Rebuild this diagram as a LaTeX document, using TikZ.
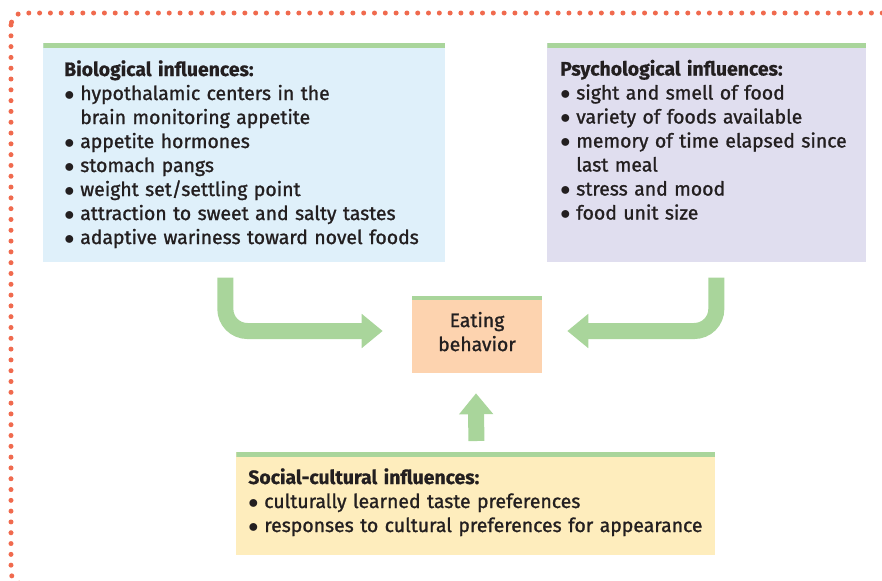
\documentclass[tikz,border=0pt]{standalone}
\usepackage{fontspec}
\setmainfont{Fira Sans}[UprightFeatures={FakeBold=1.2}, BoldFeatures={FakeBold=0.6}]
\usepackage{tikz}
\usetikzlibrary{arrows.meta,positioning,calc}
\definecolor{EatInk}{HTML}{231F20}
\definecolor{EatDot}{HTML}{F06A4E}
\definecolor{EatGreen}{HTML}{A9D59B}
\definecolor{EatBlue}{HTML}{DFF0FA}
\definecolor{EatLilac}{HTML}{E0DEEF}
\definecolor{EatPeach}{HTML}{FDD3AF}
\definecolor{EatCream}{HTML}{FEEDBD}
\newcommand{\bul}{\makebox[0.4cm][l]{$\bullet$}}
\newcommand{\hang}{\hspace*{0.4cm}}
\tikzset{
  figtext/.style={font=\fontsize{13.8}{17.07}\selectfont, text=EatInk},
  figbox/.style={rectangle, inner sep=0pt, draw=none,
    path picture={\fill[EatGreen] (path picture bounding box.north west) rectangle ([yshift=-0.11cm]path picture bounding box.north east);}},
  biobox/.style={figbox, fill=EatBlue, minimum width=10.05cm, minimum height=5.475cm},
  psybox/.style={figbox, fill=EatLilac, minimum width=7.975cm, minimum height=5.475cm},
  eatbox/.style={figbox, fill=EatPeach, minimum width=3.25cm, minimum height=1.925cm, align=center},
  socbox/.style={figbox, fill=EatCream, minimum width=11.975cm, minimum height=2.575cm},
  listtext/.style={figtext, inner sep=0pt, anchor=base west, align=left, text width=14cm},
  figflow/.style={-{Triangle[width=0.825cm,length=0.525cm]}, line width=0.4cm, draw=EatGreen, rounded corners=0.55cm},
  dotborder/.style={draw=EatDot, line width=0.125cm, line cap=round, dash pattern=on 0pt off 0.27cm, rounded corners=0.3cm}
}
\begin{document}
\begin{tikzpicture}[x=0.025cm, y=-0.025cm, every node/.style={figtext}]
\useasboundingbox (0,0) rectangle (882,580);
\draw[dotborder] (11,13) rectangle (905,584);

% boxes
\node[biobox, anchor=north west] (bio) at (43,43) {};
\node[psybox, anchor=north west] (psy) at (547,43) {};
\node[eatbox] (eat) at (477,334.5) {Eating\\behavior\\[-12.8pt]};
\node[socbox, anchor=north west] (soc) at (236,452) {};

% lists
\node[listtext] (biolist) at ([shift={(21,33)}]bio.north west) {\textbf{Biological influences:}\\
  \bul hypothalamic centers in the\\
  \hang brain monitoring appetite\\
  \bul appetite hormones\\
  \bul stomach pangs\\
  \bul weight set/settling point\\
  \bul attraction to sweet and salty tastes\\
  \bul adaptive wariness toward novel foods};
\node[listtext] (psylist) at ([shift={(13,32.5)}]psy.north west) {\textbf{Psychological influences:}\\
  \bul sight and smell of food\\
  \bul variety of foods available\\
  \bul memory of time elapsed since\\
  \hang last meal\\
  \bul stress and mood\\
  \bul food unit size};
\node[listtext] (soclist) at ([shift={(12,32)}]soc.north west) {\textbf{Social-cultural influences:}\\
  \bul culturally learned taste preferences\\
  \bul responses to cultural preferences for appearance};

% arrows
\draw[figflow] ([shift={(-19,15)}]bio.south) |- ([shift={(-29,-3.5)}]eat.west);
\draw[figflow] ([shift={(9.5,15)}]psy.south) |- ([shift={(25,-3.5)}]eat.east);
\draw[figflow] ([shift={(0.5,-11)}]soc.north) -- ([shift={(-1,20)}]eat.south);
\end{tikzpicture}
\end{document}
